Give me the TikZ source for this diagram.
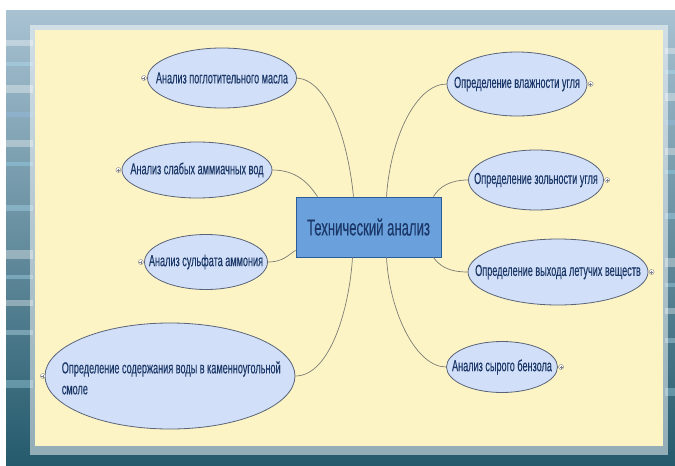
\documentclass[tikz,border=0pt]{standalone}
\usepackage{fontspec}
\newfontfamily\mapfont[FakeStretch=0.57, FakeBold=0.3]{Liberation Sans}
\usetikzlibrary{shapes.geometric, positioning}

\definecolor{panel}{HTML}{FDF4C6}
\definecolor{bubblefill}{HTML}{D2DFF8}
\definecolor{bubbleline}{HTML}{5A6478}
\definecolor{inktext}{HTML}{1B3868}
\definecolor{corefill}{HTML}{6AA0DC}
\definecolor{coreline}{HTML}{2C5C98}
\definecolor{wire}{HTML}{7C7C74}
\definecolor{frametop}{HTML}{A8C2D2}
\definecolor{framebot}{HTML}{245A6C}

\begin{document}
\begin{tikzpicture}[
        x=1pt, y=-1pt,
        bubble/.style={ellipse, draw=bubbleline, fill=bubblefill, inner sep=0pt, line width=0.8pt},
        core/.style={rectangle, draw=coreline, fill=corefill, minimum width=145pt, minimum height=60pt, line width=0.8pt, text=inktext, font=\mapfont\fontsize{23}{27}\selectfont},
        txt/.style={inner sep=0pt, text=inktext, font=\mapfont\fontsize{16}{21}\selectfont},
        expander/.style={circle, draw=gray, fill=white, inner sep=0pt, minimum size=5pt, line width=0.4pt,
            path picture={\draw[gray, line width=0.3pt]
                ([xshift=-1.5pt]path picture bounding box.center) -- ([xshift=1.5pt]path picture bounding box.center)
                ([yshift=-1.5pt]path picture bounding box.center) -- ([yshift=1.5pt]path picture bounding box.center);}},
        link/.style={draw=wire, line width=0.7pt}
    ]

    % Hintergrund
    \useasboundingbox (0,0) rectangle (675,466);
    \fill[white] (0,0) rectangle (675,466);
    \shade[top color=frametop, bottom color=framebot] (6,10) rectangle (675,466);
    \foreach \yy/\hh/\cc in {40/6/white, 62/4/cyan!30, 85/8/white, 112/5/cyan!60!blue!40, 140/7/white, 162/4/cyan!40, 205/6/cyan!30, 250/9/white, 275/4/cyan!30, 300/6/white, 330/5/cyan!20, 380/8/cyan!30}{
        \fill[\cc, opacity=0.35] (6,\yy) rectangle (33,{\yy+\hh});
        \fill[\cc, opacity=0.35] (665,{\yy+8}) rectangle (675,{\yy+8+\hh});
    }
    \fill[white, opacity=0.5] (30,25) rectangle (668,455);
    \fill[panel] (35,30) rectangle (663,446);

    % Zentrum
    \node (tech) [core] at (368.5,227) {Технический анализ};

    % Links
    \node (oil) [bubble, minimum width=149pt, minimum height=60pt, label={[txt]center:Анализ поглотительного масла}] at (222,78) {};
    \node (ammonia) [bubble, minimum width=150pt, minimum height=56pt, label={[txt]center:Анализ слабых аммиачных вод}] at (197,170) {};
    \node (sulfate) [bubble, minimum width=123pt, minimum height=55pt, label={[txt]center:Анализ сульфата аммония}] at (206,262) {};
    \node (tar) [bubble, minimum width=250pt, minimum height=106pt] at (170,376) {};
    \node (tar-text) [txt, anchor=west, align=left] at ([xshift=17pt, yshift=-2pt]tar.west) {Определение содержания воды в каменноугольной\\смоле};

    % Rechts
    \node (moisture) [bubble, minimum width=140pt, minimum height=64pt, label={[txt]center:Определение влажности угля}] at (517,84) {};
    \node (ash) [bubble, minimum width=135pt, minimum height=60pt, label={[txt]center:Определение зольности угля}] at (536,180) {};
    \node (volatile) [bubble, minimum width=180pt, minimum height=66pt, label={[txt]center:Определение выхода летучих веществ}] at (558,272) {};
    \node (benzene) [bubble, minimum width=111pt, minimum height=51pt, label={[txt]center:Анализ сырого бензола}] at (502,367) {};

    % Knoepfe
    \node (oil-x) [expander, left=0.5pt of oil] {};
    \node (ammonia-x) [expander, left=0.5pt of ammonia] {};
    \node (sulfate-x) [expander, left=0.5pt of sulfate] {};
    \node (tar-x) [expander, left=-1pt of tar] {};
    \node (moisture-x) [expander, right=0.5pt of moisture] {};
    \node (ash-x) [expander, right=0.5pt of ash] {};
    \node (volatile-x) [expander, right=0.5pt of volatile] {};
    \node (benzene-x) [expander, right=0.5pt of benzene] {};

    % Verbindungen
    \path[link] (oil.east) .. controls +(30,2) and +(-6,-60) .. ([xshift=-15pt]tech.north);
    \path[link] (ammonia.east) .. controls +(25,0) and +(-8,-12) .. ([xshift=-51pt]tech.north);
    \path[link] (sulfate.east) .. controls +(15,0) and +(-8,5) .. ([yshift=7pt]tech.south west);
    \path[link] (tar.east) .. controls +(35,0) and +(-3,50) .. ([xshift=-16pt]tech.south);
    \path[link] (moisture.west) .. controls +(-30,0) and +(4,-60) .. ([xshift=18pt]tech.north);
    \path[link] (ash.west) .. controls +(-18,0) and +(6,-10) .. ([xshift=-8pt]tech.north east);
    \path[link] (volatile.west) .. controls +(-20,0) and +(6,8) .. ([xshift=-8pt]tech.south east);
    \path[link] (benzene.west) .. controls +(-30,0) and +(3,55) .. ([xshift=18pt]tech.south);

\end{tikzpicture}
\end{document}
